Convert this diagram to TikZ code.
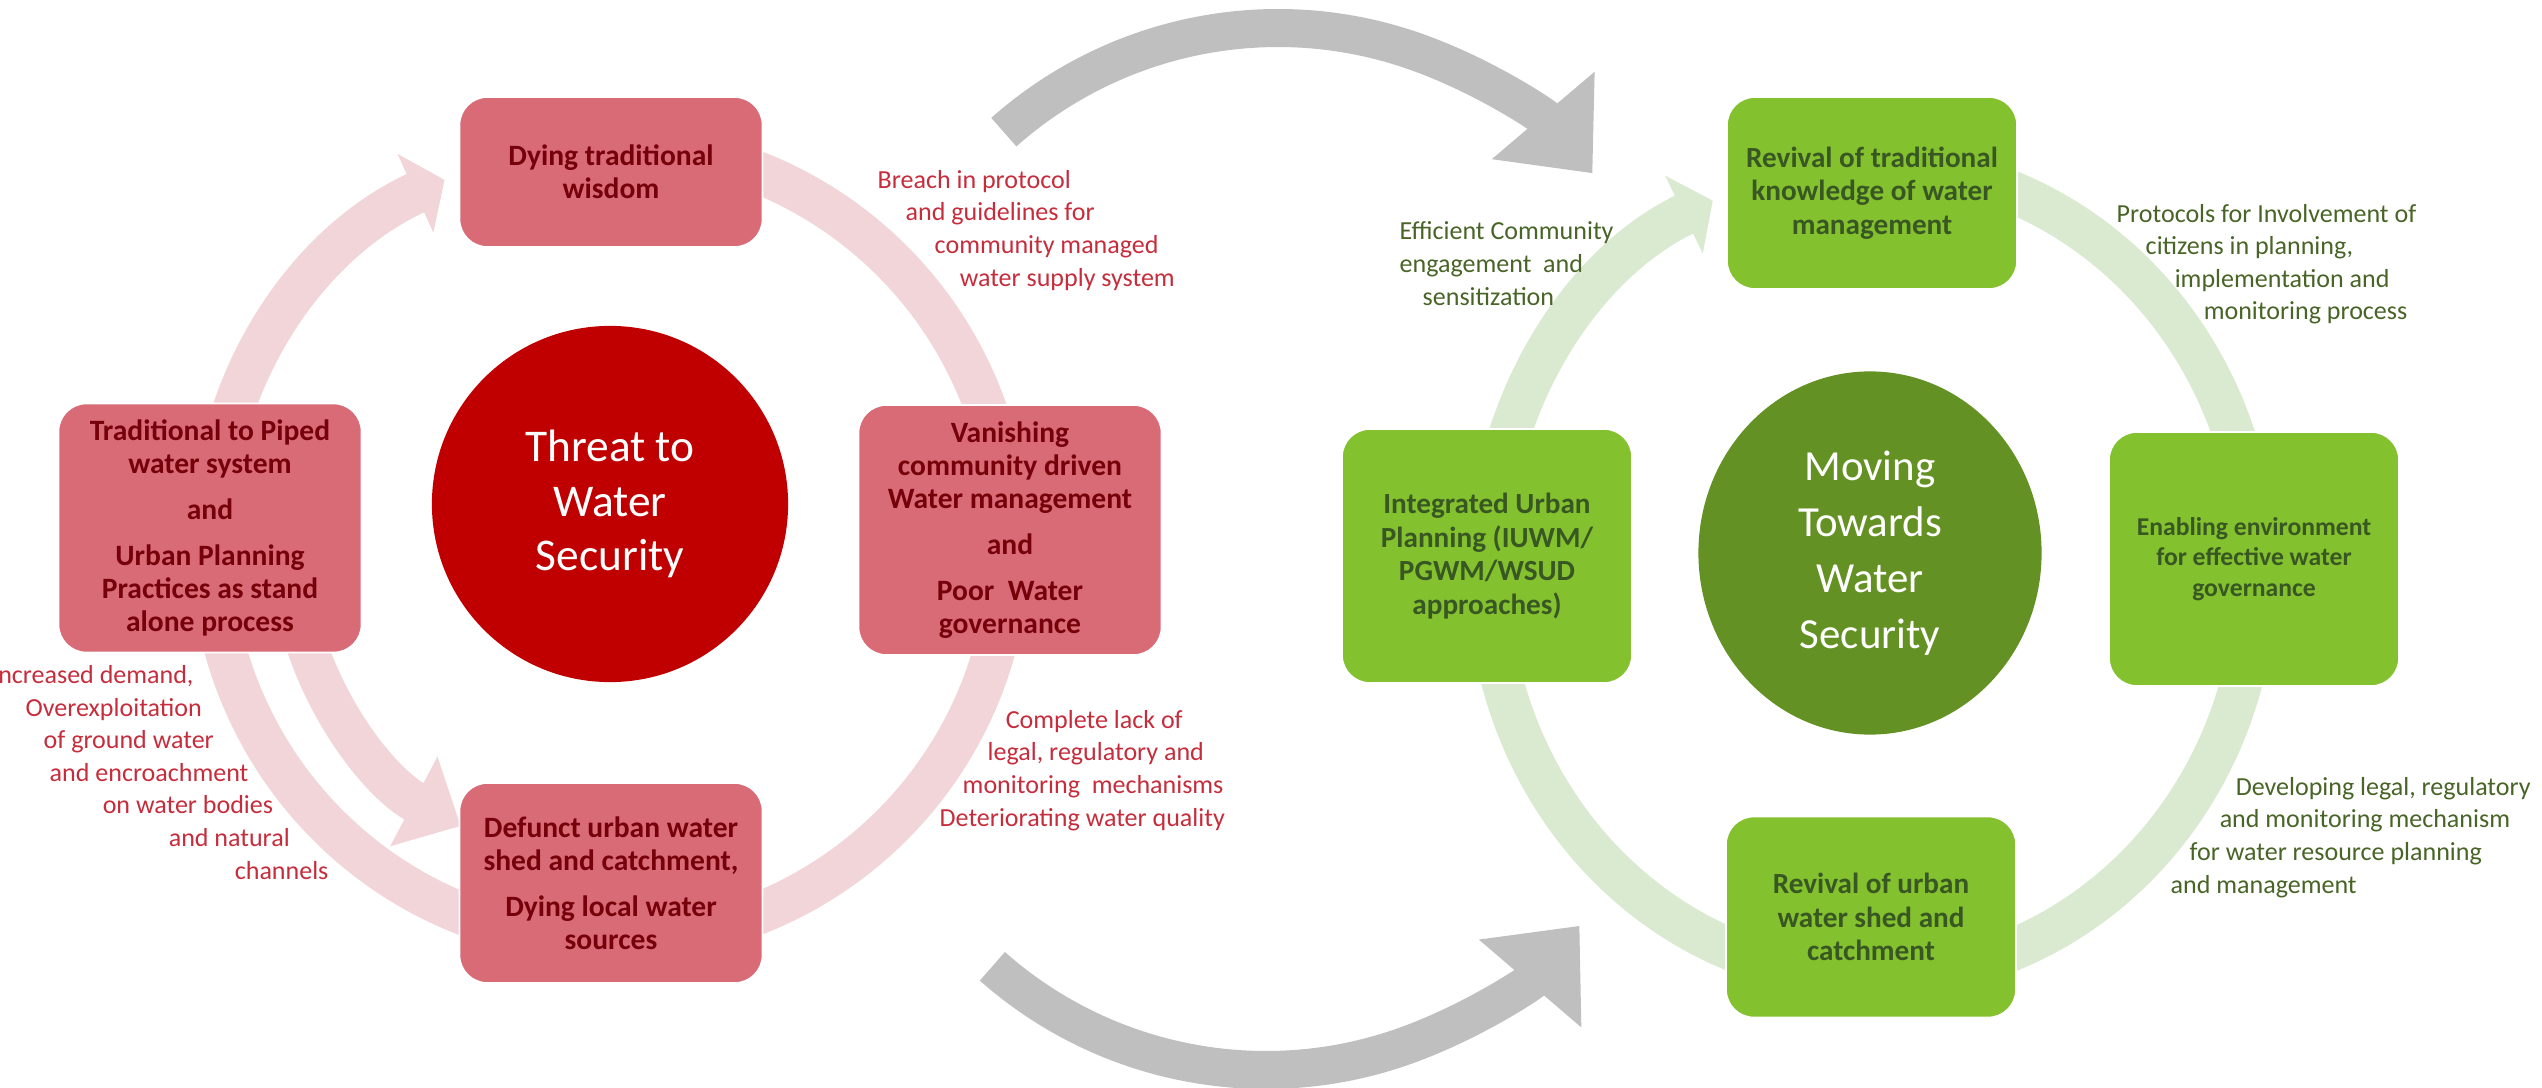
\documentclass[tikz,border=0pt]{standalone}
\usepackage{fontspec}
\setmainfont{Carlito}
\usetikzlibrary{arrows.meta}
\usetikzlibrary{backgrounds}
\usetikzlibrary{shapes.geometric}
\definecolor{boxpink}{RGB}{217,107,119}
\definecolor{inkmaroon}{RGB}{118,0,10}
\definecolor{ringpink}{RGB}{242,213,216}
\definecolor{hubred}{RGB}{192,0,0}
\definecolor{notered}{RGB}{198,45,60}
\definecolor{boxlime}{RGB}{132,193,46}
\definecolor{inkolive}{RGB}{56,87,35}
\definecolor{ringmint}{RGB}{217,234,208}
\definecolor{hubgreen}{RGB}{100,145,35}
\definecolor{notegreen}{RGB}{72,100,38}
\definecolor{arrowgray}{RGB}{191,191,191}

\begin{document}
\begin{tikzpicture}[x=0.01cm,y=-0.01cm,
    redbox/.style={rectangle,rounded corners=0.28cm,fill=boxpink,draw=white,line width=0.5pt,
        text=inkmaroon,font=\fontsize{8.4}{9.4}\selectfont\bfseries,align=center,
        inner sep=0pt,minimum width=3.03cm},
    greenbox/.style={rectangle,rounded corners=0.28cm,fill=boxlime,draw=white,line width=0.5pt,
        text=inkolive,font=\fontsize{8.3}{9.6}\selectfont\bfseries,align=center,
        inner sep=0pt,minimum width=2.9cm},
    rednote/.style={anchor=base west,inner sep=0pt,align=left,text=notered,
        font=\fontsize{7.4}{9.25}\selectfont},
    greennote/.style={anchor=base west,inner sep=0pt,align=left,text=notegreen,
        font=\fontsize{7.4}{9.25}\selectfont},
    pinkring/.style={ringpink,line width=0.42cm},
    mintring/.style={ringmint,line width=0.42cm},
    ringtip/.style={-{Triangle[length=0.32cm,width=0.85cm]}},
    grayarrow/.style={arrowgray,line width=0.38cm,-{Triangle[length=0.76cm,width=1.3cm]}}]
    \useasboundingbox (0,0) rectangle (2542,1088);

    % threat cycle
    \node[circle,fill=hubred,text=white,minimum size=3.56cm,inner sep=0pt,align=center,
        font=\fontsize{12.9}{15.5}\selectfont] (threat) at (610,504) {Threat to\\Water\\Security};
    \node[redbox,minimum height=1.5cm] (dyingwisdom) at (611,172) {Dying traditional\\wisdom};
    \node[redbox,minimum height=2.49cm] (pipedsystem) at (210,528)
    {Traditional to Piped\\water system\\[3.6pt]and\\[3.6pt]Urban Planning\\Practices as stand\\alone process};
    \node[redbox,minimum height=2.5cm] (vanishing) at (1010,530)
    {Vanishing\\community driven\\Water management\\[3.6pt]and\\[3.6pt]Poor\ \ Water\\governance};
    \node[redbox,minimum height=2cm] (defunct) at (611,883)
    {Defunct urban water\\shed and catchment,\\[3.6pt]Dying local water\\sources};
    \coordinate (threatring) at (610,543);

    \node[rednote] (breachnote) at (877,286)
    {Breach in protocol\\\hspace*{0.28cm}and guidelines for\\\hspace*{0.57cm}community managed\\\hspace*{0.82cm}water supply system};
    \node[rednote] (lacknote) at (939,826)
    {\hspace*{0.66cm}Complete lack of\\\hspace*{0.48cm}legal, regulatory and\\\hspace*{0.23cm}monitoring\ \ mechanisms\\Deteriorating water quality};
    \node[rednote] (demandnote) at (-9,879)
    {Increased demand,\\\hspace*{0.34cm}Overexploitation\\\hspace*{0.52cm}of ground water\\\hspace*{0.58cm}and encroachment\\\hspace*{1.11cm}on water bodies\\\hspace*{1.77cm}and natural\\\hspace*{2.43cm}channels};

    % moving cycle
    \node[ellipse,fill=hubgreen,text=white,minimum width=3.43cm,minimum height=3.63cm,inner sep=0pt,
        align=center,font=\fontsize{12.2}{15.9}\selectfont] (moving) at (1870,553) {Moving\\Towards\\Water\\Security};
    \node[greenbox,minimum height=1.92cm] (revival) at (1872,193)
    {Revival of traditional\\knowledge of water\\management};
    \node[greenbox,minimum height=2.54cm] (integrated) at (1487,556)
    {Integrated Urban\\Planning (IUWM/\\PGWM/WSUD\\approaches)};
    \node[greenbox,minimum height=2.54cm,font=\fontsize{7.3}{8.6}\selectfont\bfseries] (enabling) at (2254,559)
    {Enabling environment\\for effective water\\governance};
    \node[greenbox,minimum height=2.01cm] (urbanshed) at (1871,917)
    {Revival of urban\\water shed and\\catchment};
    \coordinate (movingring) at (1872,571);

    \node[greennote] (engagenote) at (1399,305)
    {Efficient Community\\engagement\ \ and\\\hspace*{0.23cm}sensitization};
    \node[greennote] (protocolnote) at (2116,320)
    {Protocols for Involvement of\\\hspace*{0.29cm}citizens in planning,\\\hspace*{0.58cm}implementation and\\\hspace*{0.87cm}monitoring process};
    \node[greennote] (developnote) at (2170,893)
    {\hspace*{0.65cm}Developing legal, regulatory\\\hspace*{0.49cm}and monitoring mechanism\\\hspace*{0.19cm}for water resource planning\\and management};

    \coordinate (toparc) at (1278,441);
    \coordinate (bottomarc) at (1266,657);

    \begin{scope}[on background layer]
    \draw[pinkring,ringtip] (threatring) ++(180:399) arc[start angle=180,end angle=245.5,radius=399];
    \draw[pinkring] (threatring) ++(285:399) arc[start angle=285,end angle=360,radius=399];
    \draw[pinkring] (threatring) ++(0:399) arc[start angle=0,end angle=80,radius=399];
    \draw[pinkring] (threatring) ++(100:399) arc[start angle=100,end angle=180,radius=399];
    \draw[pinkring,line width=0.41cm,-{Triangle[length=0.53cm,width=0.98cm]}]
        (threatring) ++(165:320) arc[start angle=165,end angle=117.8,radius=320];

    \draw[mintring,ringtip] (movingring) ++(180:384 and 407) arc[start angle=180,end angle=245.5,x radius=384,y radius=407];
    \draw[mintring] (movingring) ++(285:384 and 407) arc[start angle=285,end angle=360,x radius=384,y radius=407];
    \draw[mintring] (movingring) ++(0:384 and 407) arc[start angle=0,end angle=80,x radius=384,y radius=407];
    \draw[mintring] (movingring) ++(100:384 and 407) arc[start angle=100,end angle=180,x radius=384,y radius=407];

    \draw[grayarrow] (toparc) ++(228.4:413) arc[start angle=228.4,end angle=319.6,radius=413];
    \draw[grayarrow] (bottomarc) ++(131.5:413) arc[start angle=131.5,end angle=40.6,radius=413];
    \end{scope}
\end{tikzpicture}
\end{document}
